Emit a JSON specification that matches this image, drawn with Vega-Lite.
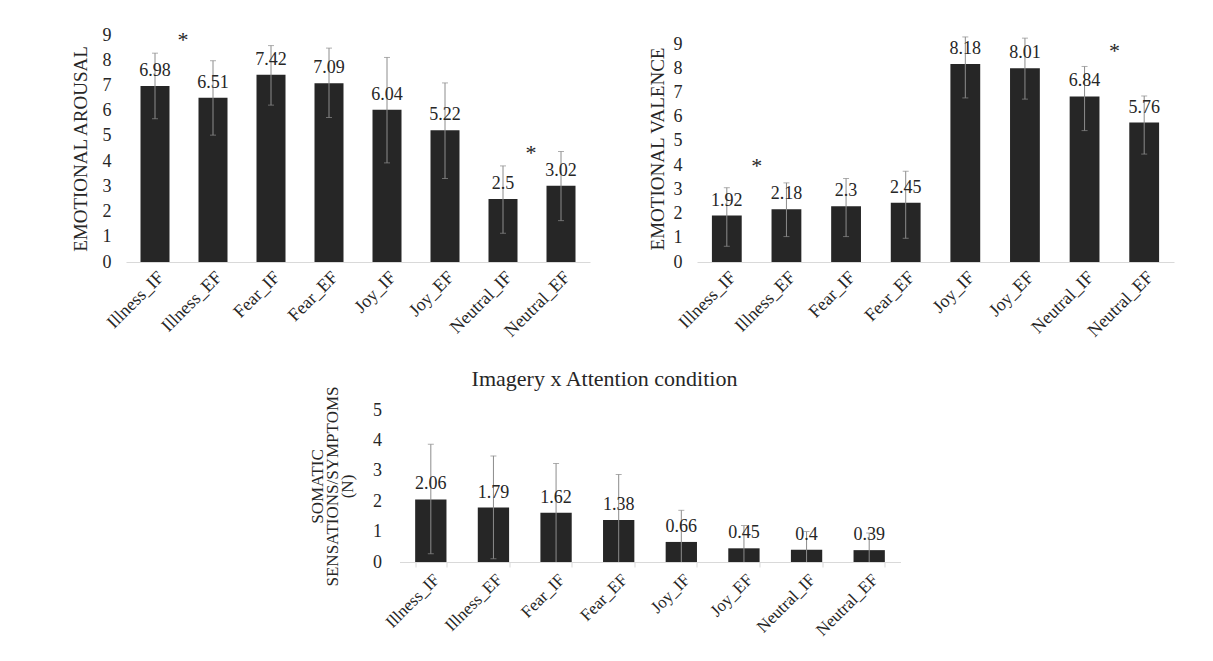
{
  "$schema": "https://vega.github.io/schema/vega-lite/v6.json",
  "background": "white",
  "padding": {"left": 71, "top": 26, "right": 5, "bottom": 5},
  "config": {
    "font": "Liberation Serif",
    "view": {"stroke": null},
    "axis": {"labelFont": "Liberation Serif", "titleFont": "Liberation Serif", "labelColor": "#262626", "titleColor": "#262626", "titleFontWeight": "normal", "grid": false}
  },
  "datasets": {
    "arousal": [
      {"cat": "Illness_IF", "v": 6.98, "lo": 5.68, "hi": 8.28},
      {"cat": "Illness_EF", "v": 6.51, "lo": 5.03, "hi": 7.98},
      {"cat": "Fear_IF", "v": 7.42, "lo": 6.22, "hi": 8.58},
      {"cat": "Fear_EF", "v": 7.09, "lo": 5.73, "hi": 8.48},
      {"cat": "Joy_IF", "v": 6.04, "lo": 3.93, "hi": 8.11},
      {"cat": "Joy_EF", "v": 5.22, "lo": 3.31, "hi": 7.10},
      {"cat": "Neutral_IF", "v": 2.5, "lo": 1.14, "hi": 3.81},
      {"cat": "Neutral_EF", "v": 3.02, "lo": 1.64, "hi": 4.38}
    ],
    "valence": [
      {"cat": "Illness_IF", "v": 1.92, "lo": 0.65, "hi": 3.07},
      {"cat": "Illness_EF", "v": 2.18, "lo": 1.05, "hi": 3.27},
      {"cat": "Fear_IF", "v": 2.3, "lo": 1.05, "hi": 3.45},
      {"cat": "Fear_EF", "v": 2.45, "lo": 0.98, "hi": 3.75},
      {"cat": "Joy_IF", "v": 8.18, "lo": 6.78, "hi": 9.3},
      {"cat": "Joy_EF", "v": 8.01, "lo": 6.73, "hi": 9.25},
      {"cat": "Neutral_IF", "v": 6.84, "lo": 5.43, "hi": 8.08},
      {"cat": "Neutral_EF", "v": 5.76, "lo": 4.46, "hi": 6.86}
    ],
    "somatic": [
      {"cat": "Illness_IF", "v": 2.06, "lo": 0.27, "hi": 3.87},
      {"cat": "Illness_EF", "v": 1.79, "lo": 0.11, "hi": 3.49},
      {"cat": "Fear_IF", "v": 1.62, "lo": -0.2, "hi": 3.24},
      {"cat": "Fear_EF", "v": 1.38, "lo": -0.2, "hi": 2.88},
      {"cat": "Joy_IF", "v": 0.66, "lo": -0.4, "hi": 1.70},
      {"cat": "Joy_EF", "v": 0.45, "lo": -0.3, "hi": 1.2},
      {"cat": "Neutral_IF", "v": 0.4, "lo": -0.3, "hi": 1.0},
      {"cat": "Neutral_EF", "v": 0.39, "lo": -0.3, "hi": 0.95}
    ],
    "starsA": [
      {"cat": "Illness_IF", "y": 8.8},
      {"cat": "Neutral_IF", "y": 4.34}
    ],
    "starsV": [
      {"cat": "Illness_IF", "y": 3.96},
      {"cat": "Neutral_IF", "y": 8.7}
    ]
  },
  "spacing": 27,
  "center": true,
  "vconcat": [
    {
      "spacing": 58,
      "hconcat": [
        {
          "width": 464,
          "height": 227,
          "encoding": {
            "x": {"field": "cat", "type": "nominal", "sort": ["Illness_IF", "Illness_EF", "Fear_IF", "Fear_EF", "Joy_IF", "Joy_EF", "Neutral_IF", "Neutral_EF"], "scale": {"paddingInner": 0.5, "paddingOuter": 0.25}, "axis": {"title": null, "labelAngle": -45, "labelFontSize": 18, "labelFont": "Liberation Serif", "ticks": false, "domainColor": "#d9d9d9", "labelPadding": 6}}
          },
          "layer": [
            {
              "data": {"name": "arousal"},
              "mark": {"type": "bar", "color": "#262626"},
              "encoding": {"y": {"field": "v", "type": "quantitative", "scale": {"domain": [0, 9], "nice": false}, "axis": {"title": "EMOTIONAL AROUSAL", "values": [0, 1, 2, 3, 4, 5, 6, 7, 8, 9], "domain": false, "ticks": false, "labelFont": "Liberation Serif", "titleFont": "Liberation Serif", "labelFontSize": 18, "titleFontSize": 19, "labelPadding": 15, "titlePadding": 12}}}
            },
            {
              "data": {"name": "arousal"},
              "mark": {"type": "errorbar", "color": "#8c8c8c", "ticks": true, "size": 6, "thickness": 1},
              "encoding": {"y": {"field": "lo", "type": "quantitative", "axis": {"title": "EMOTIONAL AROUSAL", "values": [0, 1, 2, 3, 4, 5, 6, 7, 8, 9], "domain": false, "ticks": false, "labelFont": "Liberation Serif", "titleFont": "Liberation Serif", "labelFontSize": 18, "titleFontSize": 19, "labelPadding": 15, "titlePadding": 12}}, "y2": {"field": "hi"}}
            },
            {
              "data": {"name": "arousal"},
              "mark": {"type": "text", "baseline": "bottom", "dy": -6, "fontSize": 18, "color": "#262626"},
              "encoding": {"y": {"field": "v", "type": "quantitative", "axis": {"title": "EMOTIONAL AROUSAL", "values": [0, 1, 2, 3, 4, 5, 6, 7, 8, 9], "domain": false, "ticks": false, "labelFont": "Liberation Serif", "titleFont": "Liberation Serif", "labelFontSize": 18, "titleFontSize": 19, "labelPadding": 15, "titlePadding": 12}}, "text": {"field": "v", "type": "nominal"}}
            },
            {
              "data": {"name": "starsA"},
              "mark": {"type": "text", "text": "*", "fontSize": 22, "dx": 28, "baseline": "middle", "color": "#262626"},
              "encoding": {"y": {"field": "y", "type": "quantitative", "axis": {"title": "EMOTIONAL AROUSAL", "values": [0, 1, 2, 3, 4, 5, 6, 7, 8, 9], "domain": false, "ticks": false, "labelFont": "Liberation Serif", "titleFont": "Liberation Serif", "labelFontSize": 18, "titleFontSize": 19, "labelPadding": 15, "titlePadding": 12}}}
            }
          ]
        },
        {
          "width": 477,
          "height": 227,
          "encoding": {
            "x": {"field": "cat", "type": "nominal", "sort": ["Illness_IF", "Illness_EF", "Fear_IF", "Fear_EF", "Joy_IF", "Joy_EF", "Neutral_IF", "Neutral_EF"], "scale": {"paddingInner": 0.5, "paddingOuter": 0.25}, "axis": {"title": null, "labelAngle": -45, "labelFontSize": 18, "labelFont": "Liberation Serif", "ticks": false, "domainColor": "#d9d9d9", "labelPadding": 6}}
          },
          "layer": [
            {
              "data": {"name": "valence"},
              "mark": {"type": "bar", "color": "#262626"},
              "encoding": {"y": {"field": "v", "type": "quantitative", "scale": {"domain": [0, 9.38], "nice": false}, "axis": {"title": "EMOTIONAL VALENCE", "values": [0, 1, 2, 3, 4, 5, 6, 7, 8, 9], "domain": false, "ticks": false, "labelFont": "Liberation Serif", "titleFont": "Liberation Serif", "labelFontSize": 18, "titleFontSize": 19, "labelPadding": 15, "titlePadding": 6}}}
            },
            {
              "data": {"name": "valence"},
              "mark": {"type": "errorbar", "color": "#8c8c8c", "ticks": true, "size": 6, "thickness": 1},
              "encoding": {"y": {"field": "lo", "type": "quantitative", "axis": {"title": "EMOTIONAL VALENCE", "values": [0, 1, 2, 3, 4, 5, 6, 7, 8, 9], "domain": false, "ticks": false, "labelFont": "Liberation Serif", "titleFont": "Liberation Serif", "labelFontSize": 18, "titleFontSize": 19, "labelPadding": 15, "titlePadding": 6}}, "y2": {"field": "hi"}}
            },
            {
              "data": {"name": "valence"},
              "mark": {"type": "text", "baseline": "bottom", "dy": -6, "fontSize": 18, "color": "#262626"},
              "encoding": {"y": {"field": "v", "type": "quantitative", "axis": {"title": "EMOTIONAL VALENCE", "values": [0, 1, 2, 3, 4, 5, 6, 7, 8, 9], "domain": false, "ticks": false, "labelFont": "Liberation Serif", "titleFont": "Liberation Serif", "labelFontSize": 18, "titleFontSize": 19, "labelPadding": 15, "titlePadding": 6}}, "text": {"field": "v", "type": "nominal"}}
            },
            {
              "data": {"name": "starsV"},
              "mark": {"type": "text", "text": "*", "fontSize": 22, "dx": 30, "baseline": "middle", "color": "#262626"},
              "encoding": {"y": {"field": "y", "type": "quantitative", "axis": {"title": "EMOTIONAL VALENCE", "values": [0, 1, 2, 3, 4, 5, 6, 7, 8, 9], "domain": false, "ticks": false, "labelFont": "Liberation Serif", "titleFont": "Liberation Serif", "labelFontSize": 18, "titleFontSize": 19, "labelPadding": 15, "titlePadding": 6}}}
            }
          ]
        }
      ]
    },
    {
      "width": 501,
      "height": 152,
      "title": {"text": "Imagery x Attention condition", "fontSize": 22, "fontWeight": "normal", "font": "Liberation Serif", "color": "#262626", "anchor": "middle", "frame": "bounds", "offset": -5},
      "data": {"name": "somatic"},
      "encoding": {
        "x": {"field": "cat", "type": "nominal", "sort": ["Illness_IF", "Illness_EF", "Fear_IF", "Fear_EF", "Joy_IF", "Joy_EF", "Neutral_IF", "Neutral_EF"], "scale": {"paddingInner": 0.5, "paddingOuter": 0.25}, "axis": {"title": null, "labelAngle": -45, "labelFontSize": 17, "labelFont": "Liberation Serif", "ticks": true, "tickBand": "extent", "tickColor": "#d9d9d9", "tickSize": 5, "domainColor": "#d9d9d9", "labelPadding": 4}}
      },
      "layer": [
        {
          "mark": {"type": "bar", "color": "#262626"},
          "encoding": {"y": {"field": "v", "type": "quantitative", "scale": {"domain": [0, 5], "nice": false}, "axis": {"title": ["SOMATIC", "SENSATIONS/SYMPTOMS", "(N)"], "values": [0, 1, 2, 3, 4, 5], "domain": false, "ticks": false, "labelFont": "Liberation Serif", "titleFont": "Liberation Serif", "labelFontSize": 18, "titleFontSize": 17, "titleLineHeight": 15, "labelPadding": 18, "titlePadding": 16}}}
        },
        {
          "mark": {"type": "errorbar", "color": "#8c8c8c", "ticks": true, "size": 6, "thickness": 1, "clip": true},
          "encoding": {"y": {"field": "lo", "type": "quantitative", "axis": {"title": ["SOMATIC", "SENSATIONS/SYMPTOMS", "(N)"], "values": [0, 1, 2, 3, 4, 5], "domain": false, "ticks": false, "labelFont": "Liberation Serif", "titleFont": "Liberation Serif", "labelFontSize": 18, "titleFontSize": 17, "titleLineHeight": 15, "labelPadding": 18, "titlePadding": 16}}, "y2": {"field": "hi"}}
        },
        {
          "mark": {"type": "text", "baseline": "bottom", "dy": -6, "fontSize": 18, "color": "#262626"},
          "encoding": {"y": {"field": "v", "type": "quantitative", "axis": {"title": ["SOMATIC", "SENSATIONS/SYMPTOMS", "(N)"], "values": [0, 1, 2, 3, 4, 5], "domain": false, "ticks": false, "labelFont": "Liberation Serif", "titleFont": "Liberation Serif", "labelFontSize": 18, "titleFontSize": 17, "titleLineHeight": 15, "labelPadding": 18, "titlePadding": 16}}, "text": {"field": "v", "type": "nominal"}}
        }
      ]
    }
  ]
}
